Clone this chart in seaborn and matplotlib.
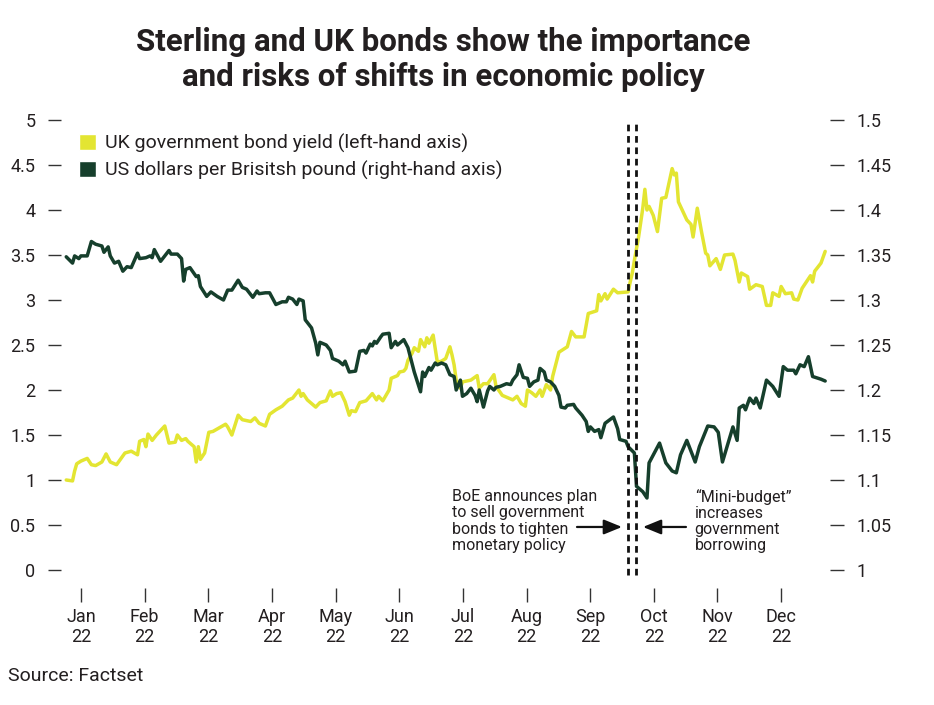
import matplotlib
matplotlib.use('Agg')
import matplotlib.pyplot as plt
from matplotlib.patches import Patch
from matplotlib.ticker import FuncFormatter
import pandas as pd
import seaborn as sns

# days counted from 1 Jan 2022
yield_days = [-7, -4, -3, -2, 0, 3, 5, 7, 10, 12,
              14, 17, 21, 24, 27, 28, 30, 31, 32, 34,
              36, 40, 42, 45, 46, 48, 50, 51, 54, 55,
              56, 57, 59, 61, 63, 66, 69, 70, 72, 75,
              77, 81, 83, 85, 88, 90, 93, 96, 99, 101,
              102, 104, 105, 106, 108, 112, 114, 117, 119, 120,
              122, 124, 126, 128, 129, 131, 133, 136, 139, 141,
              142, 144, 147, 148, 151, 152, 154, 155, 156, 158,
              159, 161, 162, 164, 165, 166, 168, 169, 170, 172,
              174, 176, 177, 178, 179, 181, 182, 186, 189, 190,
              192, 194, 197, 198, 201, 204, 206, 208, 210, 212,
              213, 215, 217, 219, 220, 222, 224, 225, 228, 232,
              234, 236, 240, 242, 246, 247, 248, 250, 251, 254,
              256, 261, 262, 263, 264, 266, 268, 269, 270, 271,
              273, 275, 277, 279, 282, 283, 284, 285, 289, 291,
              292, 294, 296, 298, 299, 300, 303, 305, 307, 311,
              312, 314, 315, 318, 319, 322, 325, 327, 329, 330,
              333, 334, 336, 339, 340, 342, 344, 348, 349, 350,
              353, 355]
yield_vals = [1.00, 0.99, 1.10, 1.18, 1.21, 1.24, 1.17, 1.16, 1.20, 1.29,
              1.20, 1.17, 1.30, 1.32, 1.28, 1.43, 1.45, 1.37, 1.51, 1.44,
              1.50, 1.60, 1.41, 1.42, 1.50, 1.44, 1.46, 1.43, 1.37, 1.20,
              1.37, 1.23, 1.30, 1.53, 1.54, 1.58, 1.62, 1.59, 1.50, 1.72,
              1.67, 1.65, 1.69, 1.63, 1.60, 1.73, 1.78, 1.82, 1.89, 1.91,
              1.94, 2.00, 1.93, 1.96, 1.89, 1.81, 1.86, 1.88, 1.99, 1.93,
              1.96, 1.97, 1.87, 1.72, 1.77, 1.76, 1.86, 1.88, 1.96, 1.89,
              1.93, 1.88, 2.00, 2.13, 2.16, 2.20, 2.21, 2.24, 2.33, 2.41,
              2.47, 2.43, 2.56, 2.48, 2.58, 2.52, 2.61, 2.46, 2.31, 2.32,
              2.35, 2.48, 2.39, 2.28, 2.11, 2.02, 2.09, 2.11, 2.16, 2.02,
              2.07, 2.07, 2.17, 2.04, 1.94, 1.91, 1.89, 1.93, 1.85, 1.82,
              2.00, 1.97, 1.93, 2.00, 1.93, 2.06, 2.00, 2.15, 2.42, 2.48,
              2.65, 2.59, 2.59, 2.85, 2.88, 3.06, 2.99, 3.07, 3.01, 3.12,
              3.08, 3.09, 3.20, 3.30, 3.44, 3.70, 4.02, 4.23, 4.00, 4.04,
              3.94, 3.76, 4.13, 4.14, 4.46, 4.39, 4.41, 4.09, 3.89, 3.84,
              3.70, 4.02, 3.76, 3.52, 3.50, 3.38, 3.46, 3.34, 3.50, 3.51,
              3.44, 3.20, 3.30, 3.26, 3.12, 3.17, 3.15, 2.94, 2.94, 3.08,
              3.04, 3.15, 3.07, 3.08, 3.01, 3.00, 3.13, 3.27, 3.20, 3.32,
              3.41, 3.54]

gbp_days = [-7, -4, -3, -1, 0, 3, 5, 7, 10, 11,
            13, 14, 16, 18, 20, 22, 24, 27, 28, 31,
            33, 34, 35, 38, 42, 43, 46, 48, 49, 50,
            52, 55, 56, 57, 60, 62, 65, 68, 70, 72,
            75, 77, 79, 82, 84, 85, 88, 90, 93, 96,
            98, 99, 101, 103, 104, 106, 107, 110, 112, 113,
            114, 117, 119, 120, 123, 125, 126, 128, 131, 133,
            135, 136, 138, 139, 140, 141, 143, 144, 147, 148,
            150, 151, 154, 156, 159, 162, 163, 164, 166, 167,
            169, 170, 172, 174, 176, 178, 179, 181, 182, 184,
            186, 188, 189, 190, 192, 194, 195, 197, 198, 200,
            203, 205, 206, 208, 209, 211, 213, 214, 216, 218,
            219, 221, 222, 224, 226, 228, 229, 231, 232, 235,
            236, 239, 241, 242, 243, 245, 247, 248, 250, 254,
            256, 257, 260, 261, 264, 265, 268, 270, 271, 276,
            279, 282, 284, 286, 289, 291, 293, 295, 299, 302,
            304, 306, 311, 313, 314, 316, 317, 319, 321, 322,
            324, 327, 330, 333, 335, 337, 340, 341, 343, 345,
            347, 349, 353, 355]
gbp_vals = [1.348, 1.341, 1.349, 1.346, 1.349, 1.349, 1.365, 1.362, 1.360, 1.353,
            1.359, 1.349, 1.341, 1.343, 1.332, 1.337, 1.336, 1.352, 1.346, 1.347,
            1.349, 1.347, 1.356, 1.343, 1.355, 1.351, 1.351, 1.346, 1.321, 1.334,
            1.336, 1.326, 1.327, 1.315, 1.304, 1.309, 1.304, 1.300, 1.311, 1.311,
            1.322, 1.314, 1.312, 1.303, 1.310, 1.307, 1.308, 1.308, 1.295, 1.298,
            1.298, 1.303, 1.301, 1.295, 1.301, 1.299, 1.278, 1.269, 1.252, 1.239,
            1.253, 1.250, 1.244, 1.235, 1.232, 1.228, 1.232, 1.220, 1.221, 1.243,
            1.244, 1.241, 1.251, 1.249, 1.254, 1.252, 1.259, 1.262, 1.263, 1.247,
            1.254, 1.250, 1.256, 1.247, 1.220, 1.198, 1.220, 1.215, 1.225, 1.222,
            1.230, 1.228, 1.230, 1.228, 1.217, 1.215, 1.200, 1.211, 1.193, 1.196,
            1.202, 1.194, 1.187, 1.200, 1.181, 1.199, 1.204, 1.200, 1.203, 1.204,
            1.207, 1.206, 1.211, 1.217, 1.228, 1.214, 1.213, 1.204, 1.209, 1.211,
            1.224, 1.220, 1.211, 1.209, 1.204, 1.194, 1.181, 1.180, 1.183, 1.184,
            1.180, 1.172, 1.165, 1.154, 1.159, 1.154, 1.156, 1.147, 1.163, 1.170,
            1.157, 1.145, 1.143, 1.137, 1.130, 1.093, 1.087, 1.080, 1.119, 1.141,
            1.119, 1.110, 1.108, 1.128, 1.144, 1.132, 1.120, 1.137, 1.160, 1.159,
            1.153, 1.120, 1.159, 1.144, 1.180, 1.183, 1.178, 1.191, 1.185, 1.191,
            1.180, 1.211, 1.204, 1.193, 1.226, 1.222, 1.222, 1.218, 1.228, 1.226,
            1.237, 1.215, 1.212, 1.210]

event_dates = ['2022-09-19', '2022-09-23']
left_ticks = [0, 0.5, 1, 1.5, 2, 2.5, 3, 3.5, 4, 4.5, 5]
right_ticks = [1, 1.05, 1.1, 1.15, 1.2, 1.25, 1.3, 1.35, 1.4, 1.45, 1.5]
month_labels = ['Jan\n22', 'Feb\n22', 'Mar\n22', 'Apr\n22', 'May\n22', 'Jun\n22',
                'Jul\n22', 'Aug\n22', 'Sep\n22', 'Oct\n22', 'Nov\n22', 'Dec\n22']

YELLOW = '#E3E532'
GREEN = '#163F2C'
TEXT = '#231F20'

start = pd.Timestamp('2022-01-01')
yld = pd.DataFrame({'date': start + pd.to_timedelta(yield_days, unit='D'), 'value': yield_vals})
gbp = pd.DataFrame({'date': start + pd.to_timedelta(gbp_days, unit='D'), 'value': gbp_vals})
# the original spaces month ticks evenly
month_ticks = pd.date_range('2022-01-01', '2022-12-01', periods=12)

sns.set_style('white')
plt.rcParams['font.family'] = ['Roboto', 'DejaVu Sans']
plt.rcParams['text.color'] = TEXT

fig = plt.figure(figsize=(9.34, 7.05), dpi=100)
ax = fig.add_axes([61 / 934, 135 / 705, 769 / 934, 450 / 705])
ax2 = ax.twinx()

sns.lineplot(data=yld, x='date', y='value', ax=ax, color=YELLOW, linewidth=2.5)
sns.lineplot(data=gbp, x='date', y='value', ax=ax2, color=GREEN, linewidth=2.5)

ax.set_xlim(start - pd.Timedelta(days=9.5), start + pd.Timedelta(days=357.3))
ax.set_ylim(0, 5)
ax2.set_ylim(1, 1.5)
ax.set_xlabel('')
ax.set_ylabel('')
ax2.set_ylabel('')

fmt = FuncFormatter(lambda v, p: f'{v:g}')
ax.set_yticks(left_ticks)
ax.yaxis.set_major_formatter(fmt)
ax2.set_yticks(right_ticks)
ax2.yaxis.set_major_formatter(fmt)
ax.set_xticks(month_ticks, month_labels, linespacing=1.45)

for a in (ax, ax2):
    for s in a.spines.values():
        s.set_visible(False)
ax.spines['bottom'].set_position(('outward', 13))

ax.tick_params(axis='x', length=10, width=1, color='#333333', pad=4,
               labelsize=13, labelcolor=TEXT, bottom=True)
ax.tick_params(axis='y', length=9.5, width=1, color='#333333', pad=9,
               labelsize=13, labelcolor=TEXT, left=True)
ax2.tick_params(axis='y', length=10, width=1, color='#333333', pad=9,
                labelsize=13, labelcolor=TEXT, right=True)
ax.grid(False)
ax2.grid(False)

for d in event_dates:
    ax2.axvline(pd.Timestamp(d), ymin=-0.012, ymax=1.0, color='#111111',
                linewidth=2.0, linestyle=(0, (2.4, 1.7)), clip_on=False)

handles = [Patch(facecolor=YELLOW, label='UK government bond yield (left-hand axis)'),
           Patch(facecolor=GREEN, label='US dollars per Brisitsh pound (right-hand axis)')]
ax2.legend(handles=handles, loc='upper left', bbox_to_anchor=(0.024, 0.969),
           frameon=False, fontsize=14, handlelength=0.85, handleheight=0.85,
           handletextpad=0.45, labelspacing=0.4, borderpad=0, borderaxespad=0)

ax2.text(0.508, 0.109, 'BoE announces plan\nto sell government\nbonds to tighten\nmonetary policy',
         transform=ax2.transAxes, ha='left', va='center', fontsize=11.5, linespacing=1.1)
ax2.text(0.824, 0.109, '\u201cMini-budget\u201d\nincreases\ngovernment\nborrowing',
         transform=ax2.transAxes, ha='left', va='center', fontsize=11.5, linespacing=1.1)
arrow = dict(arrowstyle='-|>,head_length=1.1,head_width=0.45', color='#111111', lw=1.6,
             shrinkA=0, shrinkB=0)
ax2.annotate('', xy=(0.7295, 0.0956), xytext=(0.671, 0.0956), xycoords='axes fraction',
             textcoords='axes fraction', arrowprops=arrow)
ax2.annotate('', xy=(0.7568, 0.0956), xytext=(0.8127, 0.0956), xycoords='axes fraction',
             textcoords='axes fraction', arrowprops=arrow)

fig.text(0.475, 0.916, 'Sterling and UK bonds show the importance\nand risks of shifts in economic policy',
         ha='center', va='center', fontsize=22.5, fontweight='bold', linespacing=1.2)
fig.text(8 / 934, 1 - 676 / 705, 'Source: Factset', ha='left', va='center', fontsize=14)

fig.savefig('out.png', dpi=100)
